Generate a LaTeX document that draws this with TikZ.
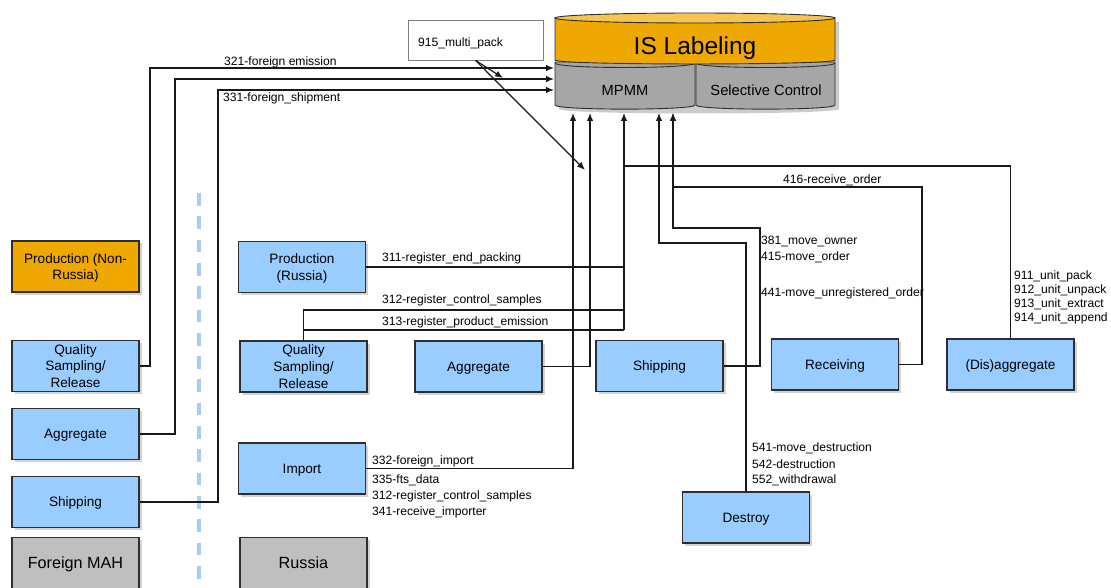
\documentclass[tikz,border=0pt]{standalone}
\usepackage{fontspec}
\setmainfont{Liberation Sans}
\usetikzlibrary{arrows.meta,shadows}
\definecolor{boxblue}{HTML}{99CCFF}
\definecolor{boxline}{HTML}{2E2E2E}
\definecolor{orangeA}{HTML}{EEA800}
\definecolor{orangeT}{HTML}{F6C453}
\definecolor{grayA}{HTML}{A6A6A6}
\definecolor{grayB}{HTML}{BFBFBF}
\definecolor{dashblue}{HTML}{A2CEF7}
\begin{document}
\begin{tikzpicture}[x=1pt,y=-1pt,
  box/.style={draw=boxline, line width=1.3pt, fill=boxblue, minimum width=127pt, minimum height=51pt,
    inner sep=2pt, align=center, text depth=0pt, font=\fontsize{13.6}{16.8}\selectfont,
    drop shadow={shadow xshift=2.5pt,shadow yshift=-2.5pt,opacity=0.35}},
  lbl/.style={anchor=west, inner sep=0pt, yshift=-1.5pt, font=\fontsize{12.1}{14}\selectfont},
  conn/.style={line width=1.2pt, draw=black!90},
  arr/.style={conn, -{Latex[length=8pt,width=6.5pt]}}]
\useasboundingbox (0,0) rectangle (1111,588);

% divider
\draw[dashblue, line width=3.5pt, dash pattern=on 12.7pt off 10.6pt] (199,193) -- (199,588);

% cylinder shadow
\fill[black, opacity=0.2] (559,22) -- (559,109) .. controls (559,115) and (839,115) .. (839,109) -- (839,22) -- cycle;
% gray sections
\draw[boxline, line width=0.9pt, fill=grayA] (555,62) -- (555,105) .. controls (555,110.5) and (695,110.5) .. (695,105) -- (695,62) -- cycle;
\draw[boxline, line width=0.9pt] (555,63) .. controls (555,69) and (695,69) .. (695,63);
\draw[boxline, line width=0.9pt, fill=grayA] (696,62) -- (696,105) .. controls (696,110.5) and (835,110.5) .. (835,105) -- (835,62) -- cycle;
\draw[boxline, line width=0.9pt] (696,63) .. controls (696,69) and (835,69) .. (835,63);
% orange top section
\draw[boxline, line width=0.9pt, fill=orangeA] (555,18) -- (555,60) .. controls (555,65.3) and (835,65.3) .. (835,60) -- (835,18) -- cycle;
\draw[boxline, line width=0.9pt, fill=orangeT] (695,18) ellipse [x radius=140, y radius=5];
\node[font=\fontsize{24.5}{28}\selectfont] (isl) at (695,48.5) {IS Labeling};
\node[font=\fontsize{14.7}{17}\selectfont] (mpmm) at (625,90.5) {MPMM};
\node[font=\fontsize{14.7}{17}\selectfont] (sel) at (766,90.5) {Selective Control};

% arrow target coordinates on the cylinder
\coordinate (c1) at (554,68);
\coordinate (c2) at (554,79);
\coordinate (c3) at (554,90);
\coordinate (b1) at (573,113);
\coordinate (b2) at (590,113);
\coordinate (b3) at (624,113);
\coordinate (b4) at (659,113);
\coordinate (b5) at (673,113);
\coordinate (t1) at (503,78);
\coordinate (t2) at (585,170);

% 915 box
\node[draw=black!50, line width=0.8pt, fill=white, minimum width=135pt, minimum height=40pt, inner sep=0pt] (m915) at (475.5,40) {};
\node[lbl] (m915t) at (418,42) {915\_multi\_pack};

% boxes
\node[box, fill=orangeA] (pnr) at (75.5,266.5) {Production (Non-\\Russia)};
\node[box] (qsl) at (75.5,366) {Quality\\Sampling/\\Release};
\node[box] (agl) at (75.5,434) {Aggregate};
\node[box] (shl) at (75.5,502) {Shipping};
\node[box, fill=grayB, font=\fontsize{16.2}{19}\selectfont] (fmah) at (75.5,563) {Foreign MAH};

\node[box] (pr) at (302,267) {Production\\(Russia)};
\node[box] (qsr) at (303.5,366.5) {Quality\\Sampling/\\Release};
\node[box] (agm) at (478.5,366.5) {Aggregate};
\node[box] (shm) at (659.5,366) {Shipping};
\node[box] (rec) at (835,364.5) {Receiving};
\node[box] (dis) at (1010.5,364.5) {(Dis)aggregate};
\node[box] (imp) at (302,468.5) {Import};
\node[box] (des) at (746,517.5) {Destroy};
\node[box, fill=grayB, font=\fontsize{16.2}{19}\selectfont] (rus) at (303.5,563) {Russia};

% connectors from the left column
\draw[arr] (qsl.east) -| (150,68) -- (c1);
\draw[arr] (agl.east) -| (175,79) -- (c2);
\draw[arr] (shl.east) -| (218,90) -- (c3);
\draw[arr] (m915.south) -- (t1);
\draw[arr] (m915.south) -- (t2);

% connectors into MPMM bottom
\draw[arr] (imp.east) -| (b1);
\draw[arr] (agm.east) -| (b2);
\draw[conn] (pr.east) -- (624,267);
\draw[conn] (qsr.north) |- (624,310);
\draw[conn] (303.5,330) -- (624,330);
\draw[arr] (624,330) -- (b3);
\draw[conn] (dis.north) |- (624,166);
\draw[arr] (des.north) |- (659,243) -- (b4);
\draw[arr] (shm.east) -| (760,228) -| (b5);
\draw[arr] (rec.east) -| (922,187) -| (b5);

% labels
\node[lbl] (l321) at (224,61) {321-foreign emission};
\node[lbl] (l331) at (223,97) {331-foreign\_shipment};
\node[lbl] (l311) at (382,257) {311-register\_end\_packing};
\node[lbl] (l312) at (382,299) {312-register\_control\_samples};
\node[lbl] (l313) at (382,321) {313-register\_product\_emission};
\node[lbl] (l416) at (783,179) {416-receive\_order};
\node[lbl] (l381) at (761,240) {381\_move\_owner};
\node[lbl] (l415) at (761,256) {415-move\_order};
\node[lbl] (l441) at (761,292) {441-move\_unregistered\_order};
\node[lbl] (l911) at (1014,275) {911\_unit\_pack};
\node[lbl] (l912) at (1014,289) {912\_unit\_unpack};
\node[lbl] (l913) at (1014,303) {913\_unit\_extract};
\node[lbl] (l914) at (1014,317) {914\_unit\_append};
\node[lbl] (l332) at (372,460) {332-foreign\_import};
\node[lbl] (l335) at (372,479) {335-fts\_data};
\node[lbl] (l312b) at (372,495) {312-register\_control\_samples};
\node[lbl] (l341) at (372,511) {341-receive\_importer};
\node[lbl] (l541) at (752,447) {541-move\_destruction};
\node[lbl] (l542) at (752,463) {542-destruction};
\node[lbl] (l552) at (752,479) {552\_withdrawal};
\end{tikzpicture}
\end{document}
